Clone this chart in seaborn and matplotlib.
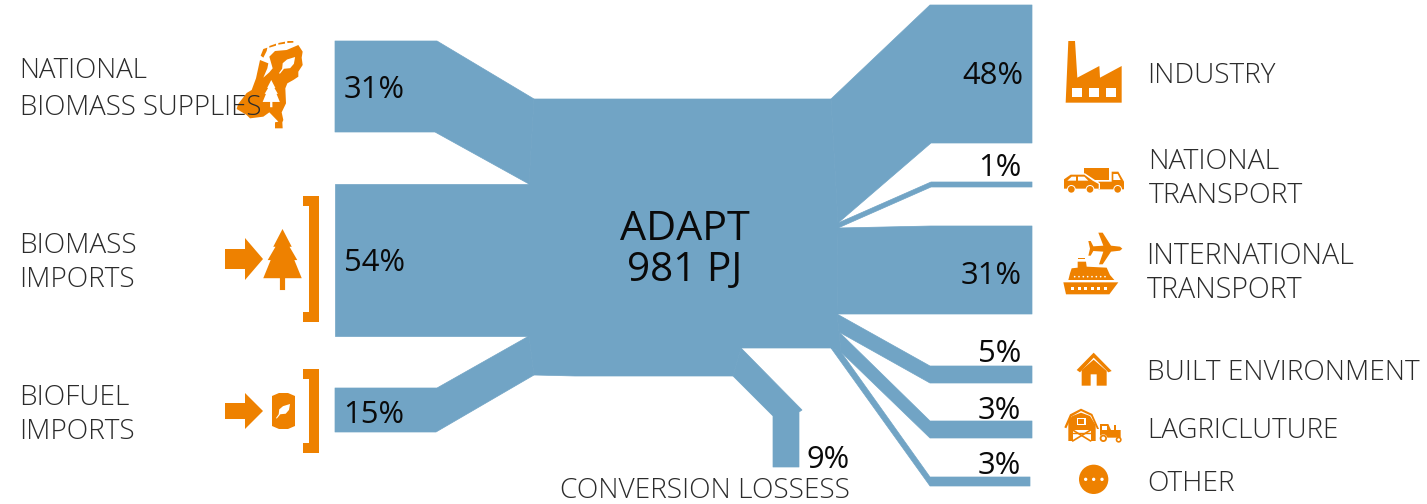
import matplotlib
matplotlib.use("Agg")
import matplotlib.pyplot as plt
from matplotlib.patches import Circle, Rectangle
import seaborn as sns

# ---- data ----
source_names = ["NATIONAL\nBIOMASS SUPPLIES", "BIOMASS\nIMPORTS", "BIOFUEL\nIMPORTS"]
source_share = [31, 54, 15]
sink_names = ["INDUSTRY", "NATIONAL\nTRANSPORT", "INTERNATIONAL\nTRANSPORT",
              "BUILT ENVIRONMENT", "LAGRICLUTURE", "OTHER"]
sink_share = [48, 1, 31, 5, 3, 3]
loss_name = "CONVERSION LOSSESS"
loss_share = 9
hub_name = "ADAPT"
hub_total_pj = 981

# ---- style ----
BLUE = "#71A4C5"
ORANGE = "#EE8100"
sns.set_theme(style="white")
plt.rcParams["font.family"] = ["Open Sans", "DejaVu Sans"]

fig, ax = plt.subplots(figsize=(14.27, 5.04), dpi=100)
fig.subplots_adjust(0, 0, 1, 1)
ax.set_xlim(0, 1427)
ax.set_ylim(504, 0)
sns.despine(ax=ax, left=True, bottom=True)
ax.set_xticks([])
ax.set_yticks([])

# ---- Sankey layout (band outlines, pixel frame) ----
hub = [(534, 99), (831, 99), (838, 223), (838, 228), (837, 314), (839, 332), (841, 352),
       (831, 348), (741, 348), (733, 376), (575, 376), (534, 375), (529, 336), (529, 184)]
in_bands = [
    [(335, 41), (437, 41), (534, 99), (529, 184), (435, 132), (335, 132)],
    [(335, 184), (529, 184), (529, 336), (335, 336)],
    [(335, 388), (437, 388), (529, 336), (534, 375), (436, 432), (335, 432)],
]
out_bands = [
    [(831, 99), (930, 5), (1032, 5), (1032, 143), (931, 143), (838, 223)],
    [(838, 223), (931, 182), (1032, 182), (1032, 187), (931, 187), (838, 228)],
    [(838, 228), (931, 226), (1032, 226), (1032, 314), (837, 314)],
    [(837, 314), (930, 366), (1032, 366), (1032, 383), (930, 383), (839, 332)],
    [(839, 332), (930, 421), (1032, 421), (1032, 438), (930, 438), (841, 352)],
    [(841, 352), (930, 477), (1030, 477), (1030, 486), (930, 486), (831, 348)],
]
loss_band = [(741, 348), (802, 410), (799, 412), (799, 467), (773, 467), (773, 416), (733, 376)]

for outline in [hub, loss_band] + in_bands + out_bands:
    ax.fill(*zip(*outline), facecolor=BLUE, edgecolor=BLUE, lw=0.5, joinstyle="round", zorder=2)


# ---- pictograms ----
def poly(pts, ox, oy, s=1 / 3, c=ORANGE, z=3):
    ax.fill([ox + p[0] * s for p in pts], [oy + p[1] * s for p in pts], color=c, lw=0, zorder=z)


def rect(x0, y0, x1, y1, ox, oy, s=1 / 3, c=ORANGE, z=3):
    ax.add_patch(Rectangle((ox + x0 * s, oy + y0 * s), (x1 - x0) * s, (y1 - y0) * s,
                           color=c, lw=0, zorder=z))


def circ(x, y, r, ox, oy, s=1 / 3, c=ORANGE, z=3):
    ax.add_patch(Circle((ox + x * s, oy + y * s), r * s, color=c, lw=0, zorder=z))


def tree(ox, oy, s, c=ORANGE, z=3):
    poly([(50, 0), (75, 48), (69, 48), (90, 84), (82, 84), (102, 133), (57, 133), (57, 165),
          (43, 165), (43, 133), (-2, 133), (18, 84), (10, 84), (31, 48), (25, 48)], ox, oy, s, c, z)


def leaf(ox, oy, s, c="white", z=4):
    poly([(0, 52), (10, 38), (12, 20), (26, 8), (52, 0), (48, 22), (36, 36), (16, 38), (3, 54)],
         ox, oy, s, c, z)


# brackets
for top, bot in [(196, 322), (369, 453)]:
    poly([(303, top), (319, top), (319, bot), (303, bot), (303, bot - 10), (309, bot - 10),
          (309, top + 10), (303, top + 10)], 0, 0, 1)

# arrows
poly([(225, 249), (245, 249), (245, 238), (263, 259), (245, 280), (245, 269), (225, 269)], 0, 0, 1)
poly([(225, 403), (245, 403), (245, 393), (263, 411), (245, 429), (245, 419), (225, 419)], 0, 0, 1)

# tree next to biomass imports
tree(264, 229, 0.37)

# barrel
poly([(272, 396), (279, 393), (288, 393), (295, 396), (295, 426), (288, 429), (279, 429), (272, 426)], 0, 0, 1)
leaf(276, 404, 0.27)

# Netherlands
nl = (230, 35)
poly([(205, 30), (218, 50), (215, 68), (218, 90), (205, 110), (205, 125), (190, 135), (172, 145),
      (166, 160), (168, 205), (155, 232), (160, 255), (157, 262), (158, 280), (135, 280), (135, 262),
      (145, 260), (118, 232), (100, 245), (60, 250), (50, 240), (20, 222), (24, 208), (50, 174),
      (65, 165), (78, 130), (90, 75), (115, 85), (112, 100), (100, 128), (118, 112), (128, 100),
      (118, 65), (135, 48), (170, 45)], *nl)
for seg in [[(92, 62), (100, 42), (112, 38), (110, 48), (100, 68)],
            [(118, 33), (138, 26), (138, 32), (118, 38)],
            [(145, 24), (165, 20), (165, 26), (145, 29)],
            [(172, 18), (190, 18), (190, 23), (172, 24)]]:
    poly(seg, *nl)
leaf(279, 57, 0.31, z=4)
tree(263, 80, 0.165, c="white", z=4)

# factory
fa = (1050, 30)
poly([(47, 218), (55, 33), (75, 33), (82, 143), (148, 108), (150, 143), (215, 108), (215, 218)], *fa)
for x0 in (67, 117, 167):
    rect(x0, 175, x0 + 30, 200, *fa, c="white", z=4)

# car and truck
tr = (1050, 30)
rect(102, 415, 178, 450, *tr)
poly([(185, 425), (205, 425), (222, 455), (222, 478), (145, 478), (145, 455), (185, 455)], *tr)
poly([(190, 432), (203, 432), (212, 450), (190, 450)], *tr, c="white", z=4)
poly([(38, 478), (38, 445), (60, 430), (105, 430), (135, 450), (150, 460), (150, 478)], *tr, c="white", z=4)
poly([(42, 476), (42, 448), (62, 434), (103, 434), (128, 452), (146, 462), (146, 476)], *tr, z=5)
poly([(52, 452), (65, 440), (78, 440), (78, 452)], *tr, c="white", z=6)
poly([(84, 440), (103, 440), (115, 452), (84, 452)], *tr, c="white", z=6)
for x, r_ in [(64, 13), (120, 13), (203, 13)]:
    circ(x, 478, r_, *tr, c="white", z=6)
    circ(x, 478, r_ - 3, *tr, z=7)

# plane and ship
sp = (1050, 225)
poly([(145, 23), (158, 23), (183, 62), (210, 65), (217, 71), (210, 77), (183, 80), (158, 118), (147, 118),
      (160, 80), (130, 78), (122, 92), (115, 92), (120, 71), (115, 48), (122, 48), (130, 64), (160, 62)], *sp)
poly([(40, 172), (205, 172), (178, 208), (48, 208)], *sp)
poly([(55, 165), (60, 145), (65, 130), (83, 128), (83, 110), (108, 110), (110, 125), (170, 128),
      (180, 150), (193, 165)], *sp)
rect(83, 98, 106, 103, *sp)
for i in range(6):
    rect(64 + i * 19.5, 185, 73 + i * 19.5, 194, *sp, c="white", z=4)
for i in range(8):
    circ(74 + i * 13, 155, 2.5, *sp, c="white", z=4)

# house
ho = (1055, 345)
poly([(65, 75), (116, 23), (170, 78), (160, 82), (116, 38), (75, 82)], *ho)
poly([(80, 75), (116, 44), (155, 78), (155, 122), (125, 122), (125, 88), (107, 88), (107, 122), (80, 122)], *ho)

# barn and tractor
poly([(28, 247), (45, 208), (78, 191), (112, 207), (132, 252), (126, 252), (108, 212), (78, 198), (50, 214), (34, 250)], *ho)
poly([(40, 288), (40, 226), (52, 213), (78, 203), (105, 213), (122, 240), (122, 288)], *ho)
rect(65, 218, 92, 240, *ho, c="white", z=4)
rect(70, 222, 88, 236, *ho, z=5)
rect(53, 255, 107, 288, *ho, c="white", z=4)
ax.plot([1055 + 53 / 3, 1055 + 107 / 3], [345 + 255 / 3, 345 + 288 / 3], color=ORANGE, lw=1.2, zorder=5)
ax.plot([1055 + 53 / 3, 1055 + 107 / 3], [345 + 288 / 3, 345 + 255 / 3], color=ORANGE, lw=1.2, zorder=5)
ax.plot([1055 + 53 / 3, 1055 + 107 / 3], [345 + 263 / 3, 345 + 263 / 3], color=ORANGE, lw=1, zorder=5)
poly([(135, 237), (160, 237), (168, 255), (197, 255), (197, 278), (135, 278)], *ho)
rect(142, 243, 156, 256, *ho, c="white", z=4)
rect(176, 240, 182, 256, *ho)
circ(145, 280, 12, *ho, c="white", z=4)
circ(145, 280, 11, *ho, z=5)
circ(145, 280, 5.5, *ho, c="white", z=6)
circ(191, 284, 9, *ho, z=5)
circ(191, 284, 4, *ho, c="white", z=6)

# other
ot = (1055, 345)
circ(116, 403, 44, *ot)
for x in (92, 116, 141):
    circ(x, 403, 5, *ot, c="white", z=4)

# ---- text ----
LBL = dict(color="#2b2b2b", fontweight=300, va="baseline", zorder=8)
PCT = dict(fontsize=22.3, color="#0a0a0a", va="baseline", zorder=8)


def multiline(x, baselines, label, size, **kw):
    for b, part in zip(baselines, label.split("\n")):
        ax.text(x, b, part, fontsize=size, **kw)


source_pos = [(19.5, (78, 115), 19.9), (19.5, (253, 287), 20.2), (19.5, (405, 439), 20.2)]
for name, (x, bl, size) in zip(source_names, source_pos):
    multiline(x, bl, name, size, **LBL)

sink_pos = [(1147, (83,), 20.2), (1148.5, (169, 203), 20.4), (1146.5, (264, 298), 20.6),
            (1147, (380,), 20.2), (1147, (438,), 20.0), (1147, (491,), 20.2)]
for name, (x, bl, size) in zip(sink_names, sink_pos):
    multiline(x, bl, name, size, **LBL)
ax.text(850, 498, loss_name, ha="right", fontsize=20.2, **LBL)

for val, x, bl in zip(source_share, (343.5, 343.5, 343.5), (98, 271, 423)):
    ax.text(x, bl, f"{val}%", **PCT)
for val, (xr, bl) in zip(sink_share, [(1023, 84), (1021, 176), (1022, 284), (1021, 362), (1021, 419), (1021, 474)]):
    ax.text(xr, bl, f"{val}%", ha="right", **PCT)
ax.text(850, 468, f"{loss_share}%", ha="right", **PCT)

ax.text(685, 240, hub_name, ha="center", va="baseline", fontsize=29.8, color="#0a0a0a", zorder=8)
ax.text(684.5, 281, f"{hub_total_pj} PJ", ha="center", va="baseline", fontsize=29.2, color="#0a0a0a", zorder=8)

fig.savefig("out.png", dpi=100)
